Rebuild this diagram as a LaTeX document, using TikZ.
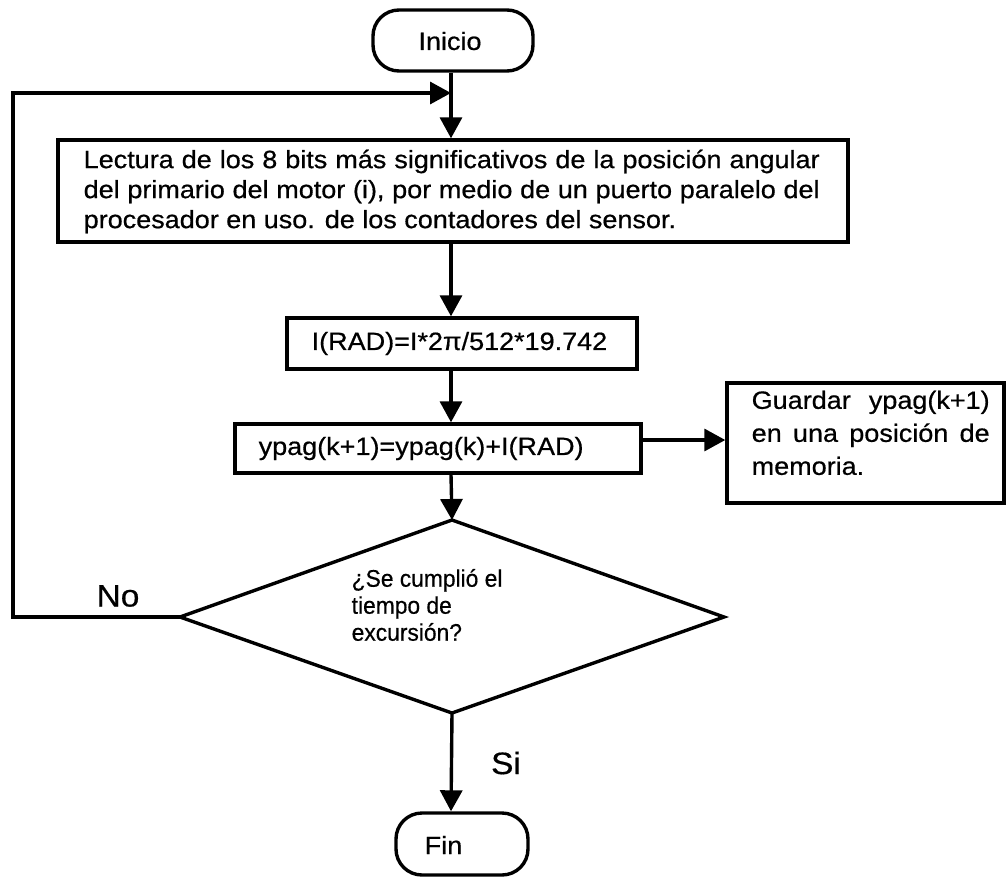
\documentclass[tikz,border=0pt]{standalone}
\usepackage{fontspec}
\setmainfont{Liberation Sans}[FakeStretch=1.08,FakeBold=0.6]
\newfontfamily\narrowfont{Liberation Sans}[FakeStretch=0.95,FakeBold=0.5]
\usetikzlibrary{arrows.meta}
\begin{document}
\begin{tikzpicture}[x=1pt,y=-1pt,line width=3.4pt,
  txt/.style={font=\fontsize{25}{30}\selectfont, inner sep=0pt},
  rbox/.style={draw, line width=3.4pt, inner sep=0pt},
  term/.style={draw, line width=3.4pt, rounded corners=26pt, inner sep=0pt},
  arr/.style={-{Triangle[length=21pt,width=22pt]}, line width=3.4pt},
  lbl/.style={inner sep=0pt, font=\fontsize{31}{36}\selectfont},
]
\useasboundingbox (0,0) rectangle (1007,884);
\coordinate (mx) at (451,0);
\coordinate (ay) at (0,440);

% terminals and boxes
\node[term, minimum width=160pt, minimum height=61pt] (ini) at (453,40.5) {};
\node[txt] (initxt) at (450,41) {Inicio};

\node[rbox, minimum width=790pt, minimum height=102pt] (lect) at (453,191) {};
\node[txt, text width=736pt, align=justify, anchor=north west] (lecttxt) at (82,148)
  {Lectura de los 8 bits más significativos de la posición angular\linebreak
   del primario del motor (i), por medio de un puerto paralelo del\linebreak
   procesador en uso. de los contadores del sensor.};

\node[rbox, minimum width=350pt, minimum height=51pt] (rad) at (462,343.5) {};
\node[txt, anchor=west] (radtxt) at (310,343.5) {I(RAD)=I*2π/512*19.742};

\node[rbox, minimum width=406pt, minimum height=49pt] (ypag) at (438,448.5) {};
\node[txt, anchor=west] (ypagtxt) at (257,448.5) {ypag(k+1)=ypag(k)+I(RAD)};

\node[rbox, minimum width=277pt, minimum height=120pt] (guard) at (865.5,443) {};
\node[txt, text width=238pt, align=justify, anchor=north west,
      font=\fontsize{25}{33}\selectfont] (guardtxt) at (750,389)
  {Guardar ypag(k+1)\linebreak en una posición de\linebreak memoria.};

% decision
\coordinate (dt) at (452,520);
\coordinate (dl) at (180,617);
\coordinate (dr) at (724,617);
\coordinate (db) at (452,713);
\draw[line width=3.4pt, line join=miter] (dt) -- (dr) -- (db) -- (dl) -- cycle;
\node[inner sep=0pt, anchor=west, align=left,
      font=\narrowfont\fontsize{24}{27}\selectfont] (dectxt) at (350,605)
  {¿Se cumplió el\\tiempo de\\excursión?};

\node[term, minimum width=132pt, minimum height=62pt] (fin) at (462,844) {};
\node[txt] (fintxt) at (443.5,845) {Fin};

\node[lbl] (no) at (118,596) {No};
\node[lbl] (si) at (506,763) {Si};

% connectors
\coordinate (c2) at (13,93);
\draw[arr] (ini.south -| mx) -- (lect.north -| mx);
\draw[arr] (dl) -| (c2) -- (c2 -| mx);
\draw[arr] (lect.south -| mx) -- (rad.north -| mx);
\draw[arr] (rad.south -| mx) -- (ypag.north -| mx);
\draw[arr] (ypag.south -| mx) -- (dt);
\draw[arr] (ypag.east |- ay) -- (guard.west |- ay);
\draw[arr] (db) -- (fin.north -| mx);
\end{tikzpicture}
\end{document}
